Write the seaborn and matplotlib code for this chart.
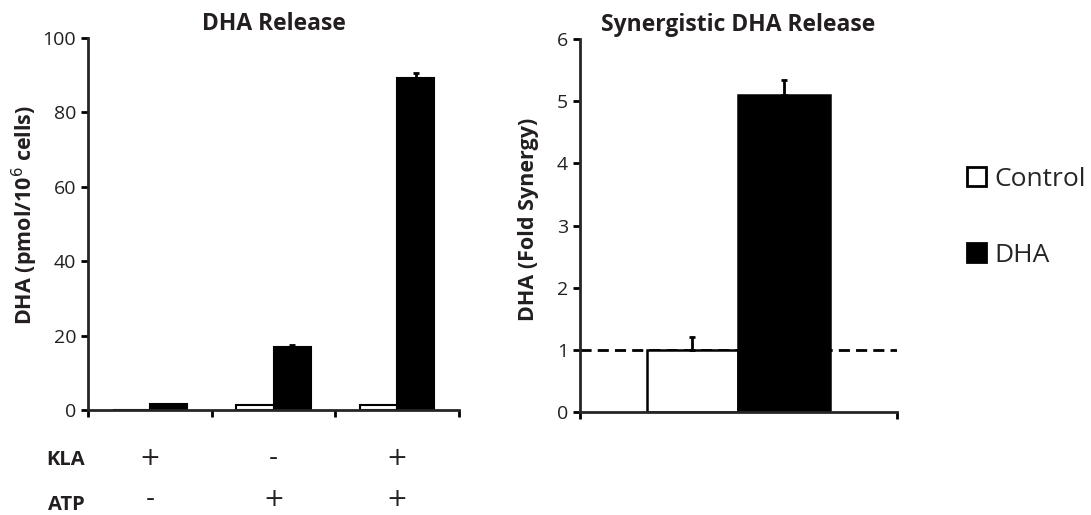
import numpy as np
import pandas as pd
import matplotlib
matplotlib.use("Agg")
import matplotlib.pyplot as plt
import matplotlib.transforms as mtransforms
import seaborn as sns

# left panel: DHA release per condition
conditions = ["KLA", "ATP", "KLA+ATP"]
control_vals = [0.0, 1.3, 1.3]
dha_vals = [1.5, 16.8, 89.2]
control_err = [0.0, 0.0, 0.0]
dha_err = [0.0, 0.6, 1.3]
kla_signs = ["+", "-", "+"]
atp_signs = ["-", "+", "+"]

# right panel: fold synergy
syn_groups = ["Control", "DHA"]
syn_vals = [1.0, 5.1]
syn_err = [0.21, 0.24]

TXT = "#231f20"

sns.set_theme(style="ticks")
plt.rcParams["font.family"] = ["Open Sans", "DejaVu Sans"]
plt.rcParams["axes.linewidth"] = 2

left_df = pd.DataFrame({
    "condition": conditions * 2,
    "treatment": ["Control"] * 3 + ["DHA"] * 3,
    "value": control_vals + dha_vals,
})
right_df = pd.DataFrame({
    "group": ["Synergy", "Synergy"],
    "treatment": syn_groups,
    "value": syn_vals,
})
pal = {"Control": "white", "DHA": "black"}

fig = plt.figure(figsize=(10.91, 5.15), dpi=100)
ax1 = fig.add_axes([0.0807, 0.204, 0.34, 0.722])
ax2 = fig.add_axes([0.5316, 0.200, 0.2905, 0.724])

sns.barplot(data=left_df, x="condition", y="value", hue="treatment", palette=pal,
            edgecolor="black", linewidth=1.5, width=0.6, errorbar=None, ax=ax1)
sns.barplot(data=right_df, x="group", y="value", hue="treatment", palette=pal,
            edgecolor="black", linewidth=1.8, width=0.58, errorbar=None, ax=ax2)

# upper-only error bars
for ax, errsets in [(ax1, [control_err, dha_err]), (ax2, [[syn_err[0]], [syn_err[1]]])]:
    for cont, errs in zip(ax.containers, errsets):
        for bar, e in zip(cont, errs):
            if e <= 0:
                continue
            xc = bar.get_x() + bar.get_width() / 2
            h = bar.get_height()
            ax.errorbar(xc, h, yerr=[[0], [e]], fmt="none", ecolor="black",
                        elinewidth=2, capsize=2.5, capthick=2, zorder=5)

handles, labels = ax1.get_legend_handles_labels()
ax1.get_legend().remove()
ax2.get_legend().remove()

# left axis styling
ax1.set_ylim(0, 100)
ax1.set_yticks([0, 20, 40, 60, 80, 100])
ax1.set_xlim(-0.5, 2.5)
ax1.set_xticks([-0.5, 0.5, 1.5, 2.5])
ax1.set_xticklabels([])
ax1.set_xlabel("")
ax1.set_ylabel("DHA (pmol/10$^{6}$ cells)", fontsize=15.5, fontweight="bold", color=TXT)
ax1.yaxis.set_label_coords(-0.13, 0.524)
ax1.set_title("DHA Release", fontsize=16.5, fontweight="bold", color=TXT, pad=6)

# right axis styling
ax2.set_ylim(0, 6)
ax2.set_yticks(range(0, 7))
ax2.set_xlim(-0.5, 0.5)
ax2.set_xticks([-0.5, 0.5])
ax2.set_xticklabels([])
ax2.set_xlabel("")
ax2.set_ylabel("DHA (Fold Synergy)", fontsize=15.5, fontweight="bold", color=TXT)
ax2.yaxis.set_label_coords(-0.13, 0.517)
ax2.set_title("Synergistic DHA Release", fontsize=16.5, fontweight="bold", color=TXT, pad=6)
ax2.axhline(1, color="black", linestyle=(0, (4, 2.2)), linewidth=2, zorder=0.5)

for ax in (ax1, ax2):
    sns.despine(ax=ax)
    ax.tick_params(axis="both", direction="out", length=5, width=2, colors="black",
                   labelcolor=TXT, labelsize=14)
    for b in ax.patches:
        b.set_zorder(2)

# treatment table below left panel
trans = mtransforms.blended_transform_factory(ax1.transData, fig.transFigure)
fig.text(0.0605, 0.107, "KLA", ha="center", va="center", fontsize=14.5, fontweight="bold", color=TXT)
fig.text(0.0605, 0.020, "ATP", ha="center", va="center", fontsize=14.5, fontweight="bold", color=TXT)
for i, (k, a) in enumerate(zip(kla_signs, atp_signs)):
    ax1.text(i, 0.110, k, transform=trans, ha="center", va="center", fontsize=18,
             family="DejaVu Sans", color=TXT)
    ax1.text(i, 0.031, a, transform=trans, ha="center", va="center", fontsize=18,
             family="DejaVu Sans", color=TXT)

leg = fig.legend(handles, labels, loc="center left", bbox_to_anchor=(0.886, 0.578),
                 frameon=False, fontsize=19, handlelength=0.72, handleheight=0.72,
                 handletextpad=0.35, labelspacing=1.95, borderpad=0, borderaxespad=0)
for h in leg.legend_handles:
    h.set_edgecolor("black")
    h.set_linewidth(2)

fig.savefig("out.png", dpi=100)
